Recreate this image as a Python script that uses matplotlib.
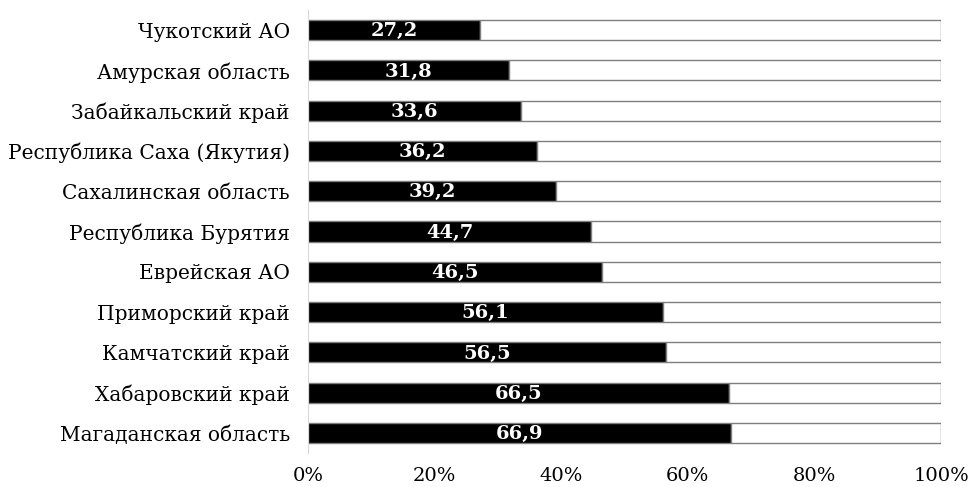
import numpy as np
from matplotlib import pyplot as plt

# regions and their share, %
regions = ['Чукотский АО', 'Амурская область', 'Забайкальский край',
           'Республика Саха (Якутия)', 'Сахалинская область',
           'Республика Бурятия', 'Еврейская АО', 'Приморский край',
           'Камчатский край', 'Хабаровский край', 'Магаданская область']
values = [27.2, 31.8, 33.6, 36.2, 39.2, 44.7, 46.5, 56.1, 56.5, 66.5, 66.9]
rest = [100 - v for v in values]
value_labels = ['27,2', '31,8', '33,6', '36,2', '39,2', '44,7', '46,5',
                '56,1', '56,5', '66,5', '66,9']

plt.rcParams['font.family'] = ['DejaVu Serif']

fig = plt.figure(figsize=(9.72, 4.87), dpi=100)
ax = fig.add_axes([308 / 972, 34 / 487, 633 / 972, 443 / 487])

y = np.arange(len(regions))
ax.barh(y, values, height=0.5, color='black', edgecolor='#7f7f7f', linewidth=1)
ax.barh(y, rest, left=values, height=0.5, color='white', edgecolor='#7f7f7f', linewidth=1)

for i in range(len(values)):
    ax.text(values[i] / 2, y[i] + 0.03, value_labels[i], color='white', fontweight='bold',
            fontsize=14, ha='center', va='center')

ax.set_xlim(0, 100)
ax.set_ylim(len(regions) - 0.5, -0.5)
ax.set_yticks(y)
ax.set_yticklabels(regions, fontsize=14.5)
ax.set_xticks([0, 20, 40, 60, 80, 100])
ax.set_xticklabels(['0%', '20%', '40%', '60%', '80%', '100%'], fontsize=14)
ax.tick_params(axis='both', length=0)
ax.tick_params(axis='y', pad=13)
ax.tick_params(axis='x', pad=10)

for s in ['top', 'right', 'bottom']:
    ax.spines[s].set_visible(False)
ax.spines['left'].set_color('#d9d9d9')

fig.savefig('out.png', dpi=100)
